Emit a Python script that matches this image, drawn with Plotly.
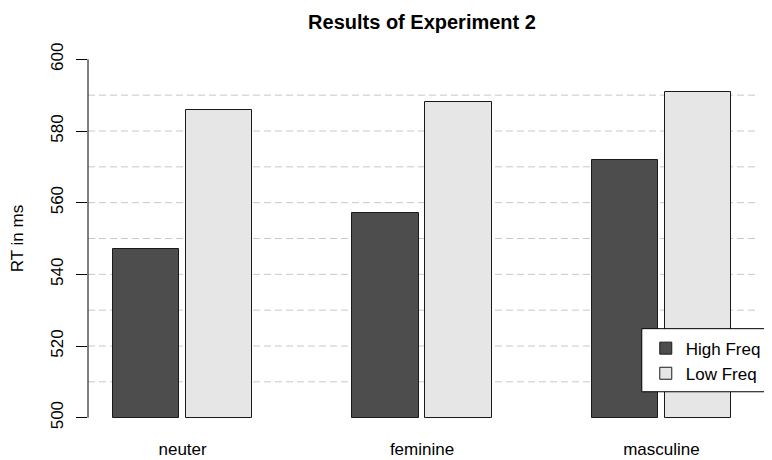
import plotly.graph_objects as go

categories = ["neuter", "feminine", "masculine"]
series_names = ["High Freq", "Low Freq"]
high_freq = [547, 557, 572]
low_freq = [586, 588, 591]
y_ticks = [500, 520, 540, 560, 580, 600]
grid_vals = [510, 520, 530, 540, 550, 560, 570, 580, 590]

colors = ["#4d4d4d", "#e6e6e6"]

# R barplot(beside=TRUE) layout: bar width 1, space within 0.1, between groups 1.5
w_in, w_between, bw = 0.1, 1.5, 1.0
n_ser = 2
centers = {0: [], 1: []}
group_centers = []
left = 0.0
for g in range(len(categories)):
    left += w_between
    starts = []
    for s in range(n_ser):
        if s > 0:
            left += w_in
        starts.append(left)
        centers[s].append(left + bw / 2)
        left += bw
    group_centers.append((starts[0] + left) / 2)

xmin = centers[0][0] - bw / 2
xmax = centers[1][-1] + bw / 2
pad = (xmax - xmin) * 0.04
ypad = (600 - 500) * 0.04

FONT = "Liberation Sans, Arial, sans-serif"

fig = go.Figure()
for s, vals in enumerate([high_freq, low_freq]):
    fig.add_trace(go.Bar(
        x=centers[s], y=[v - 500 for v in vals], base=500, width=bw,
        name=series_names[s],
        marker=dict(color=colors[s], line=dict(color="#1a1a1a", width=1)),
    ))

shapes = []
for gv in grid_vals:
    shapes.append(dict(type="line", xref="paper", yref="y", x0=0, x1=1, y0=gv, y1=gv,
                       line=dict(color="#c8c8c8", width=1, dash="7px,4px"), layer="below"))
shapes.append(dict(type="line", xref="paper", yref="y", x0=0, x1=0, y0=500, y1=600,
                   line=dict(color="black", width=1)))
# legend box (R's legend runs past the right edge of the device)
shapes.append(dict(type="rect", xref="paper", yref="paper", x0=0.829, x1=1.1,
                   y0=0.104, y1=0.267, fillcolor="white",
                   line=dict(color="black", width=1), layer="above"))

# page body has an 8px margin: figure is sized/offset to compensate
fig.update_layout(
    width=764, height=452,
    margin=dict(l=80, r=16, t=37, b=28, autoexpand=False),
    paper_bgcolor="white", plot_bgcolor="white",
    font=dict(family=FONT, size=17, color="black"),
    title=dict(text="<b>Results of Experiment 2</b>", xref="paper", x=0.5, xanchor="center",
               y=0.985, yanchor="top", font=dict(size=20)),
    barmode="overlay",
    bargap=0,
    showlegend=True,
    legend=dict(x=0.835, y=0.262, xanchor="left", yanchor="top",
                bgcolor="rgba(0,0,0,0)", borderwidth=0,
                font=dict(size=17), itemwidth=30, tracegroupgap=0),
    shapes=shapes,
    xaxis=dict(range=[xmin - pad, xmax + pad], tickvals=group_centers, ticktext=categories,
               showgrid=False, zeroline=False, showline=False, ticks="",
               ticklabelstandoff=5, tickfont=dict(size=17)),
    yaxis=dict(range=[500 - ypad, 600 + ypad], tickvals=y_ticks, showgrid=False,
               zeroline=False, showline=False, ticks="outside", ticklen=11,
               tickcolor="black", tickwidth=1, tickangle=-90, ticklabelstandoff=6,
               tickfont=dict(size=17),
               title=dict(text="RT in ms", standoff=22, font=dict(size=17))),
)

fig.write_html("out.html")
